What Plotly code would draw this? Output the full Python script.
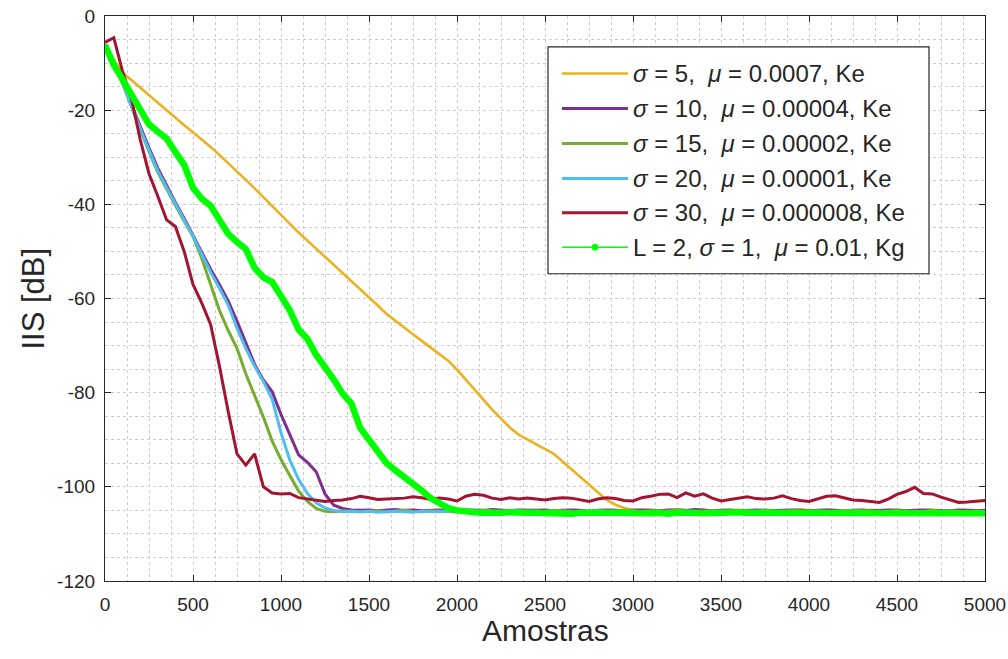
import plotly.graph_objects as go

# Sample index grid (every 50 samples)
samples = list(range(0, 5001, 50))

# IIS [dB] curves, one value per sample of the grid above
iis_s5 = [
    -6.0, -9.3, -12.0, -13.6, -15.3, -17.0, -18.6, -20.2, -21.8, -23.2,
    -24.7, -26.2, -27.8, -29.5, -31.2, -33.0, -34.8, -36.6, -38.5, -40.4,
    -42.3, -44.2, -46.0, -47.7, -49.4, -51.1, -52.8, -54.6, -56.3, -58.0,
    -59.8, -61.5, -63.3, -64.8, -66.2, -67.6, -69.0, -70.4, -71.8, -73.2,
    -75.1, -77.2, -79.4, -81.6, -83.6, -85.5, -87.4, -88.9, -89.9, -90.9,
    -91.9, -93.0, -94.6, -96.2, -97.9, -99.6, -101.2, -102.8, -103.8, -104.5,
    -104.9, -105.0, -104.9, -105.1, -105.0, -104.8, -105.0, -105.1, -104.9, -105.0,
    -105.2, -105.0, -104.9, -105.1, -105.0, -104.9, -105.0, -105.1, -105.0, -104.8,
    -105.0, -105.1, -104.9, -105.0, -105.0, -105.2, -105.0, -104.9, -105.1, -105.0,
    -104.9, -105.0, -105.1, -105.0, -104.9, -105.0, -105.1, -105.0, -104.9, -105.0,
    -105.0,
]

iis_s10 = [
    -6.0, -10.0, -14.0, -18.8, -23.6, -28.0, -32.3, -36.0, -39.6, -43.0,
    -46.6, -50.2, -53.8, -57.0, -60.5, -64.8, -69.6, -74.0, -77.3, -79.8,
    -84.6, -88.8, -93.2, -94.8, -96.8, -101.5, -103.9, -104.6, -104.9, -105.0,
    -104.9, -105.1, -105.0, -104.8, -105.0, -104.9, -105.1, -105.0, -104.9, -105.0,
    -105.1, -104.9, -105.0, -105.0, -104.8, -105.0, -105.1, -104.9, -105.0, -105.0,
    -104.9, -105.1, -105.0, -104.9, -105.0, -105.2, -105.0, -104.9, -105.0, -105.1,
    -105.0, -104.9, -105.0, -105.1, -104.9, -105.0, -105.0, -104.8, -105.0, -105.1,
    -105.0, -104.9, -105.1, -105.0, -104.9, -105.0, -105.1, -105.0, -104.9, -105.0,
    -105.1, -105.0, -104.9, -105.0, -105.2, -105.0, -104.9, -105.1, -105.0, -104.9,
    -105.0, -105.1, -105.0, -104.9, -105.0, -105.0, -105.1, -104.9, -105.0, -105.1,
    -105.0,
]

iis_s15 = [
    -6.0, -10.0, -14.3, -19.2, -24.2, -28.8, -33.2, -36.8, -40.2, -43.6,
    -46.8, -51.5, -57.0, -62.5, -66.8, -70.6, -76.0, -80.5, -85.2, -90.3,
    -94.2, -97.6, -100.9, -103.1, -104.6, -105.2, -105.3, -105.1, -105.2, -105.3,
    -105.2, -105.1, -105.3, -105.2, -105.0, -105.2, -105.3, -105.1, -105.2, -105.2,
    -105.3, -105.1, -105.2, -105.0, -105.2, -105.3, -105.2, -105.1, -105.2, -105.3,
    -105.2, -105.0, -105.1, -105.2, -105.3, -105.2, -105.1, -105.2, -105.2, -105.0,
    -105.2, -105.3, -105.1, -105.2, -105.2, -105.0, -105.2, -105.3, -105.2, -105.1,
    -105.2, -105.2, -105.3, -105.1, -105.2, -105.0, -105.2, -105.3, -105.1, -105.2,
    -105.2, -105.1, -105.3, -105.2, -105.2, -105.0, -105.1, -105.2, -105.3, -105.2,
    -105.1, -105.2, -105.2, -105.3, -105.0, -105.2, -105.1, -105.2, -105.3, -105.2,
    -105.2,
]

iis_s20 = [
    -6.0, -10.0, -14.2, -19.0, -24.0, -28.5, -32.9, -36.4, -39.9, -43.2,
    -46.8, -50.6, -54.4, -57.8, -61.4, -66.3, -70.6, -74.4, -77.6, -81.4,
    -88.5, -94.3, -98.4, -101.4, -103.4, -104.5, -105.0, -105.3, -105.2, -105.3,
    -105.2, -105.4, -105.3, -105.2, -105.3, -105.4, -105.2, -105.3, -105.3, -105.1,
    -105.3, -105.2, -105.4, -105.3, -105.2, -105.3, -105.3, -105.4, -105.2, -105.3,
    -105.3, -105.2, -105.3, -105.4, -105.2, -105.3, -105.1, -105.3, -105.4, -105.3,
    -105.2, -105.3, -105.3, -105.4, -105.2, -105.3, -105.2, -105.4, -105.3, -105.2,
    -105.3, -105.4, -105.2, -105.3, -105.3, -105.1, -105.3, -105.2, -105.4, -105.3,
    -105.2, -105.3, -105.4, -105.3, -105.2, -105.3, -105.3, -105.2, -105.4, -105.3,
    -105.3, -105.2, -105.3, -105.3, -105.4, -105.2, -105.3, -105.3, -105.2, -105.4,
    -105.3,
]

iis_s30 = [
    -5.6, -4.6, -11.8, -17.5, -26.2, -33.5, -38.3, -43.3, -44.7, -50.0,
    -57.0, -61.0, -65.5, -74.3, -84.0, -93.0, -95.4, -93.0, -100.0, -101.3,
    -101.5, -101.4, -102.3, -102.6, -102.8, -103.1, -102.9, -102.8, -102.5, -102.0,
    -102.3, -102.7, -102.6, -102.5, -102.4, -102.1, -102.3, -102.7, -102.4, -102.6,
    -103.0, -102.0, -101.6, -101.8, -102.4, -102.7, -102.3, -102.6, -102.4, -102.6,
    -102.8, -102.5, -102.3, -102.4, -102.7, -103.1, -102.6, -102.3, -102.5, -102.9,
    -103.0, -102.3, -102.0, -101.6, -101.5, -102.3, -101.3, -102.0, -101.5, -102.4,
    -103.0, -102.7, -102.3, -102.1, -102.5, -102.6, -102.4, -101.9, -102.5, -102.9,
    -103.1, -102.6, -102.0, -101.9, -102.3, -102.8, -102.9, -103.1, -103.3, -102.6,
    -101.6, -101.0, -100.1, -101.4, -101.5, -102.2, -102.8, -103.3, -103.2, -103.0,
    -102.9,
]

iis_kg = [
    -6.2, -10.4, -13.5, -16.5, -19.9, -23.0, -24.6, -26.0, -28.9, -31.6,
    -36.5, -38.8, -40.3, -43.3, -46.3, -48.0, -49.5, -53.5, -55.5, -56.5,
    -59.3, -62.5, -66.6, -68.6, -72.0, -74.5, -77.2, -80.2, -82.3, -87.5,
    -90.0, -92.5, -95.0, -96.5, -97.8, -99.4, -100.8, -102.4, -103.6, -104.5,
    -105.0, -105.3, -105.4, -105.5, -105.6, -105.5, -105.4, -105.6, -105.5, -105.5,
    -105.6, -105.4, -105.5, -105.7, -105.5, -105.4, -105.6, -105.5, -105.5, -105.6,
    -105.4, -105.5, -105.6, -105.5, -105.7, -105.5, -105.4, -105.5, -105.6, -105.5,
    -105.5, -105.6, -105.4, -105.5, -105.5, -105.7, -105.5, -105.4, -105.6, -105.5,
    -105.5, -105.4, -105.6, -105.5, -105.5, -105.6, -105.4, -105.5, -105.7, -105.5,
    -105.5, -105.6, -105.4, -105.5, -105.6, -105.5, -105.5, -105.4, -105.6, -105.5,
    -105.6,
]

series_names = [
    "<i>σ</i> = 5,  <i>μ</i> = 0.0007, Ke",
    "<i>σ</i> = 10,  <i>μ</i> = 0.00004, Ke",
    "<i>σ</i> = 15,  <i>μ</i> = 0.00002, Ke",
    "<i>σ</i> = 20,  <i>μ</i> = 0.00001, Ke",
    "<i>σ</i> = 30,  <i>μ</i> = 0.000008, Ke",
    "L = 2, <i>σ</i> = 1,  <i>μ</i> = 0.01, Kg",
]
series_values = [iis_s5, iis_s10, iis_s15, iis_s20, iis_s30, iis_kg]
series_colors = ["#EDB120", "#7E2F8E", "#77AC30", "#4DBEEE", "#A2142F", "#00FF00"]
series_widths = [2.6, 3.0, 3.0, 3.0, 3.0, 6.5]

x_ticks = list(range(0, 5001, 500))
y_ticks = list(range(-120, 1, 20))
y_tick_text = [str(v) for v in y_ticks]

fig = go.Figure()

for name, vals, col, w in zip(series_names, series_values, series_colors, series_widths):
    fig.add_trace(go.Scatter(
        x=samples, y=vals, mode="lines", name=name,
        line=dict(color=col, width=w), showlegend=False,
    ))

axis_col = "#262626"
grid_col = "#cdcdcd"

fig.update_xaxes(
    range=[0, 5000], tickvals=x_ticks, ticks="inside", ticklen=6,
    tickcolor=axis_col, linecolor=axis_col, linewidth=1.2, mirror="allticks",
    showgrid=True, gridcolor=grid_col, griddash="dot", gridwidth=1,
    minor=dict(dtick=125, showgrid=True, gridcolor=grid_col, griddash="dot", gridwidth=1),
    zeroline=False, ticklabelstandoff=6, automargin=False,
    tickfont=dict(size=19, color=axis_col),
)
fig.update_yaxes(
    range=[-120, 0], tickvals=y_ticks, ticktext=y_tick_text, ticks="inside", ticklen=6,
    tickcolor=axis_col, linecolor=axis_col, linewidth=1.2, mirror="allticks",
    showgrid=True, gridcolor=grid_col, griddash="dot", gridwidth=1,
    minor=dict(dtick=5, showgrid=True, gridcolor=grid_col, griddash="dot", gridwidth=1),
    zeroline=False, ticklabelstandoff=5, automargin=False,
    tickfont=dict(size=19, color=axis_col),
)

# Legend box drawn in plot-area (paper) coordinates
leg_x0, leg_x1 = 0.5034, 0.9364
leg_y0, leg_y1 = 0.5438, 0.9452
row_y = [0.8983, 0.8364, 0.7745, 0.7126, 0.6516, 0.5906]
line_x0, line_x1 = 0.5193, 0.5943
text_x = 0.5977

shapes = [dict(type="rect", xref="paper", yref="paper",
               x0=leg_x0, x1=leg_x1, y0=leg_y0, y1=leg_y1,
               line=dict(color=axis_col, width=1.2), fillcolor="white", layer="above")]
annotations = [
    # axis titles
    dict(xref="paper", yref="paper", x=0.5, y=-0.0875, xanchor="center", yanchor="middle",
         text="Amostras", showarrow=False, font=dict(size=30, color=axis_col)),
    dict(xref="paper", yref="paper", x=-0.0818, y=0.5, xanchor="center", yanchor="middle",
         text="IIS [dB]", textangle=-90, showarrow=False, font=dict(size=31, color=axis_col)),
]
for k, (name, col, w) in enumerate(zip(series_names, series_colors, series_widths)):
    lw = 1.5 if k == 5 else w
    shapes.append(dict(type="line", xref="paper", yref="paper",
                       x0=line_x0, x1=line_x1, y0=row_y[k], y1=row_y[k],
                       line=dict(color=col, width=lw), layer="above"))
    annotations.append(dict(xref="paper", yref="paper", x=text_x, y=row_y[k],
                            xanchor="left", yanchor="middle", text=name, showarrow=False,
                            font=dict(size=24, color=axis_col)))
# dot marker on the Kg legend line
dot_cx = (line_x0 + line_x1) / 2
shapes.append(dict(type="circle", xref="paper", yref="paper",
                   x0=dot_cx - 0.0034, x1=dot_cx + 0.0034,
                   y0=row_y[5] - 0.0053, y1=row_y[5] + 0.0053,
                   line=dict(color=series_colors[5], width=1), fillcolor=series_colors[5],
                   layer="above"))

fig.update_layout(
    width=1008, height=659,
    margin=dict(l=105, r=23, t=16, b=78),
    paper_bgcolor="white", plot_bgcolor="white",
    font=dict(family="Liberation Sans, Arial, sans-serif", color=axis_col),
    showlegend=False,
    shapes=shapes, annotations=annotations,
)

fig.write_html("out.html")
